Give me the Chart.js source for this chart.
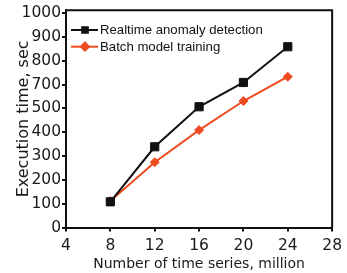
<!DOCTYPE html>
<html>
<head>
<meta charset="utf-8">
<script src="https://cdn.jsdelivr.net/npm/chart.js@4"></script>
<style>
  html, body { margin: 0; padding: 0; background: #fff; }
  #chart { display: block; }
</style>
</head>
<body>
<canvas id="chart" width="347" height="273"></canvas>
<script>
// data (y in axis units, 100 per tick step)
const xValues = [8, 12, 16, 20, 24];
const realtimeValues = [108, 339, 507, 609, 759];
const batchValues = [111, 274, 409, 531, 633];
const seriesNames = ["Realtime anomaly detection", "Batch model training"];
const yTickValues = [0, 100, 200, 300, 400, 500, 600, 700, 800, 900];
const yTickLabels = ["0", "100", "200", "300", "400", "500", "700", "800", "900", "1000"];

const INK = "#111";
const RED = "#ee4b21";

function points(values) {
  return xValues.map((x, i) => ({ x, y: values[i] }));
}

// box round the plot area (top and right sides)
const frame = {
  id: "frame",
  afterDatasetsDraw(chart) {
    const { ctx, chartArea: a } = chart;
    ctx.save();
    ctx.strokeStyle = INK;
    ctx.lineWidth = 2;
    ctx.beginPath();
    ctx.moveTo(a.left, a.top);
    ctx.lineTo(a.right, a.top);
    ctx.lineTo(a.right, a.bottom);
    ctx.stroke();
    ctx.restore();
  }
};

// legend inside the plot: line sample with marker, then label
const insideLegend = {
  id: "insideLegend",
  afterDraw(chart) {
    const { ctx } = chart;
    ctx.save();
    chart.data.datasets.forEach((ds, i) => {
      const y = 30 + i * 16.7;
      ctx.strokeStyle = ds.borderColor;
      ctx.lineWidth = 2;
      ctx.beginPath();
      ctx.moveTo(71, y);
      ctx.lineTo(98, y);
      ctx.stroke();
      ctx.fillStyle = ds.borderColor;
      ctx.strokeStyle = ds.borderColor;
      Chart.helpers.drawPoint(ctx, { pointStyle: ds.pointStyle, radius: 4, borderWidth: 1 }, 85, y);
      ctx.fillStyle = INK;
      ctx.font = "13.2px 'Liberation Sans', Arial, sans-serif";
      ctx.textAlign = "left";
      ctx.textBaseline = "middle";
      ctx.fillText(ds.label, 100, y + 0.5);
    });
    ctx.restore();
  }
};

new Chart(document.getElementById("chart"), {
  type: "line",
  data: {
    datasets: [
      {
        label: seriesNames[0],
        data: points(realtimeValues),
        borderColor: INK,
        backgroundColor: INK,
        borderWidth: 2,
        pointStyle: "rect",
        pointRadius: 5.8,
        pointBorderWidth: 1
      },
      {
        label: seriesNames[1],
        data: points(batchValues),
        borderColor: RED,
        backgroundColor: RED,
        borderWidth: 2,
        pointStyle: "rectRot",
        pointRadius: 4.5,
        pointBorderWidth: 1
      }
    ]
  },
  options: {
    responsive: false,
    animation: false,
    layout: { padding: { top: 10, right: 13, left: 0, bottom: 0 } },
    plugins: { legend: { display: false }, tooltip: { enabled: false } },
    scales: {
      x: {
        type: "linear",
        min: 4,
        max: 28,
        afterFit: s => { s.height = 45.5; },
        ticks: {
          stepSize: 4,
          padding: 5,
          color: "#1a1a1a",
          font: { family: "'DejaVu Sans'", size: 15.5 }
        },
        grid: { drawOnChartArea: false, drawTicks: true, tickLength: 4, color: INK, lineWidth: 2 },
        border: { color: INK, width: 2 },
        title: {
          display: true,
          text: "Number of time series, million",
          color: "#1a1a1a",
          font: { family: "'DejaVu Sans'", size: 14 },
          padding: { top: 0, bottom: 0 }
        }
      },
      y: {
        min: 0,
        max: 912,
        afterFit: s => { s.width = 66; },
        afterBuildTicks: s => { s.ticks = yTickValues.map(v => ({ value: v })); },
        ticks: {
          padding: 1,
          color: "#1a1a1a",
          font: { family: "'DejaVu Sans'", size: 15.5 },
          callback: (v, i) => yTickLabels[i]
        },
        grid: { drawOnChartArea: false, drawTicks: true, tickLength: 4, color: INK, lineWidth: 2 },
        border: { color: INK, width: 2 },
        title: {
          display: true,
          text: "Execution time, sec",
          color: "#1a1a1a",
          font: { family: "'DejaVu Sans'", size: 16 },
          padding: { top: 14, bottom: 0 }
        }
      }
    }
  },
  plugins: [frame, insideLegend]
});
</script>
</body>
</html>
